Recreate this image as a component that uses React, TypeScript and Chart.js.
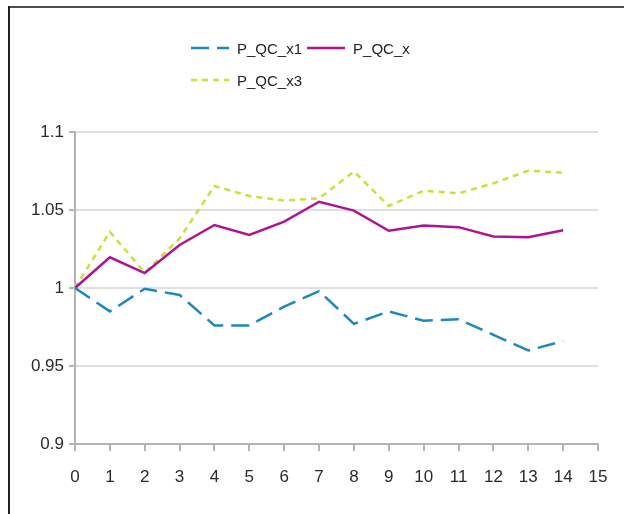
import React, { useEffect, useRef } from 'react';
import { Chart, registerables } from 'chart.js';
Chart.register(...registerables);

const xValues = [0, 1, 2, 3, 4, 5, 6, 7, 8, 9, 10, 11, 12, 13, 14];
const seriesX1 = [1, 0.985, 0.9995, 0.9955, 0.976, 0.976, 0.988, 0.998, 0.977, 0.985, 0.979, 0.98, 0.97, 0.96, 0.966];
const seriesX = [1, 1.0197, 1.0096, 1.0276, 1.0404, 1.034, 1.0425, 1.0553, 1.0496, 1.0367, 1.04, 1.039, 1.033, 1.0325, 1.037];
const seriesX3 = [1, 1.036, 1.0098, 1.0318, 1.0654, 1.059, 1.056, 1.0575, 1.0746, 1.0526, 1.0624, 1.0607, 1.0671, 1.0752, 1.0739];
const seriesNames = ['P_QC_x1', 'P_QC_x', 'P_QC_x3'];
const yMin = 0.9;
const yMax = 1.1;
const yStep = 0.05;
const xMin = 0;
const xMax = 15;

const FONT = "'Liberation Sans', Arial, sans-serif";
const COLORS = ['#1e87be', '#af1490', '#c8e03c'];
const DASHES = [[18, 8], [], [6, 5]];

export default function App() {
  const ref = useRef<HTMLCanvasElement>(null);
  useEffect(() => {
    document.body.style.margin = '0';
    const toPts = (arr: number[]) => xValues.map((x, i) => ({ x, y: arr[i] }));

    const framePlugin = {
      id: 'frame',
      beforeDraw(c: any) {
        const ctx = c.ctx;
        ctx.save();
        ctx.fillStyle = '#4d4d4d';
        ctx.fillRect(9, 6, 615, 2);
        ctx.fillStyle = '#222';
        ctx.fillRect(8, 6, 2, 508);
        ctx.restore();
      },
    };

    const legendPlugin = {
      id: 'customLegend',
      afterDraw(c: any) {
        const ctx = c.ctx;
        const rows = [[0, 1], [2]];
        const rowY = [50, 82];
        ctx.save();
        ctx.font = `15px ${FONT}`;
        ctx.textBaseline = 'middle';
        rows.forEach((row, ri) => {
          let x = 191;
          const y = rowY[ri];
          row.forEach((di) => {
            const ds = c.data.datasets[di];
            ctx.strokeStyle = ds.borderColor;
            ctx.lineWidth = 2.5;
            ctx.setLineDash(ds.borderDash || []);
            ctx.beginPath();
            ctx.moveTo(x, y - 2);
            ctx.lineTo(x + 38, y - 2);
            ctx.stroke();
            ctx.setLineDash([]);
            x += 46;
            ctx.fillStyle = '#222';
            ctx.fillText(ds.label, x, y);
            x += ctx.measureText(ds.label).width + 5;
          });
        });
        ctx.restore();
      },
    };

    const datasets = [seriesX1, seriesX, seriesX3].map((arr, i) => ({
      label: seriesNames[i],
      data: toPts(arr),
      borderColor: COLORS[i],
      backgroundColor: COLORS[i],
      borderWidth: 2.5,
      borderDash: DASHES[i],
      pointRadius: 0,
      tension: 0,
      fill: false,
    }));

    const chart = new Chart(ref.current!, {
      type: 'line',
      data: { datasets },
      plugins: [framePlugin, legendPlugin],
      options: {
        animation: false,
        responsive: true,
        maintainAspectRatio: false,
        layout: { padding: { top: 132, left: 20, right: 26, bottom: 0 } },
        plugins: { legend: { display: false }, tooltip: { enabled: false } },
        scales: {
          x: {
            type: 'linear',
            min: xMin,
            max: xMax,
            afterFit: (s: any) => { s.height = 70; },
            ticks: { stepSize: 1, color: '#2a2a2a', font: { family: FONT, size: 17 }, padding: 16, maxRotation: 0 },
            grid: { drawOnChartArea: false, drawTicks: true, tickLength: 7, tickColor: '#b4b4b4', lineWidth: 2 },
            border: { display: true, color: '#b4b4b4', width: 2 },
          },
          y: {
            min: yMin,
            max: yMax,
            afterFit: (s: any) => { s.width = 55; },
            ticks: {
              stepSize: yStep,
              color: '#2a2a2a',
              font: { family: FONT, size: 17 },
              padding: 5,
              callback: (v: any) => String(parseFloat(Number(v).toFixed(2))),
            },
            grid: { color: '#e0e0e0', lineWidth: 2, tickLength: 6, tickColor: '#b4b4b4' },
            border: { display: true, color: '#b4b4b4', width: 2 },
          },
        },
      },
    });
    return () => chart.destroy();
  }, []);
  return (
    <div style={{ width: 624, height: 514, position: 'relative' }}>
      <canvas ref={ref} />
    </div>
  );
}
